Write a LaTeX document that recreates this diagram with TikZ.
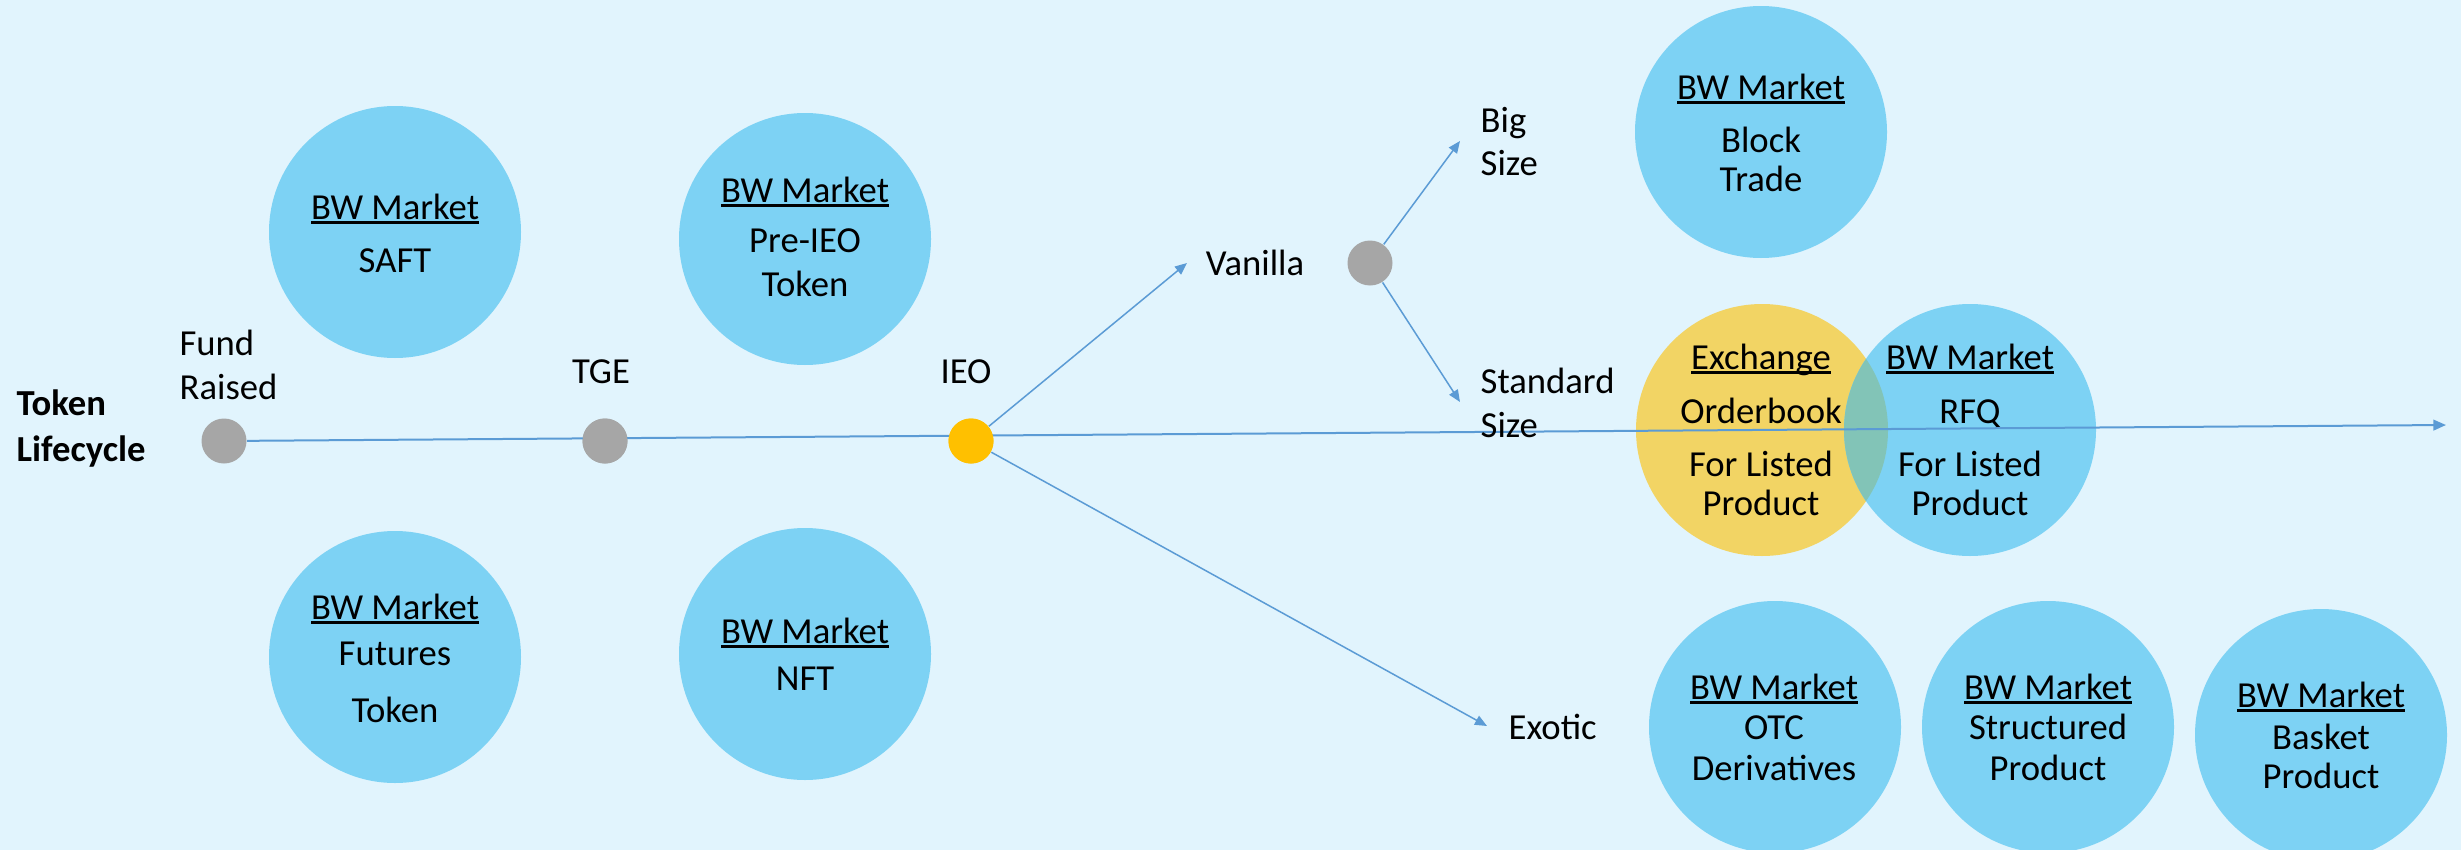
\documentclass[tikz,border=0pt]{standalone}
\usepackage{fontspec}
\setmainfont{Carlito}
\usetikzlibrary{arrows.meta}
\definecolor{bgcol}{RGB}{225,244,253}
\definecolor{bwblue}{RGB}{125,210,244}
\definecolor{exyellow}{RGB}{242,212,100}
\definecolor{overlapcol}{RGB}{130,196,183}
\definecolor{dotgray}{RGB}{166,166,166}
\definecolor{ieocol}{RGB}{255,192,0}
\definecolor{linecol}{RGB}{91,155,213}
\newcommand\myul[1]{\setbox0\hbox{#1}\rlap{\rule[-1.6pt]{\wd0}{1pt}}\box0}
\tikzset{
  bubble/.style={circle, fill=bwblue, minimum size=75.6pt, inner sep=0pt},
  ybubble/.style={circle, fill=exyellow, minimum size=75.6pt, inner sep=0pt},
  txt/.style={font=\fontsize{11}{13}\selectfont, text height=7.2pt, text depth=0pt, inner sep=0pt},
  ltxt/.style={txt, anchor=west},
  btxt/.style={ltxt, font=\fontsize{11}{13}\selectfont\bfseries},
  dotnode/.style={circle, fill=dotgray, minimum size=13.5pt, inner sep=0pt},
  conn/.style={draw=linecol, line width=0.45pt, -{Triangle[length=3.6pt,width=3pt]}},
  mainline/.style={draw=linecol, line width=0.6pt, -{Triangle[length=3.8pt,width=3.2pt]}},
}
\begin{document}
\begin{tikzpicture}[x=0.3pt,y=-0.3pt]
\fill[bgcol] (0,0) rectangle (2461,850);
\useasboundingbox (0,0) rectangle (2461,850);

% bubbles
\node[bubble] (saft) at (395,232) {};
\node[bubble] (preieo) at (805,239) {};
\node[bubble] (futures) at (395,657) {};
\node[bubble] (nft) at (805,654) {};
\node[bubble] (block) at (1761,132) {};
\node[ybubble] (exch) at (1762,430) {};
\node[bubble] (rfq) at (1970,430) {};
\begin{scope}
  \clip (exch.center) circle[radius=37.8pt];
  \fill[overlapcol] (rfq.center) circle[radius=37.8pt];
\end{scope}
\node[bubble] (otc) at (1775,727) {};
\node[bubble] (struct) at (2048,727) {};
\node[bubble] (basket) at (2321,735) {};

% bubble texts
\node[txt] (saft1) at (395,207) {\myul{BW Market}};
\node[txt] (saft2) at (395,260) {SAFT};
\node[txt] (pre1) at (805,190) {\myul{BW Market}};
\node[txt] (pre2) at (805,240) {Pre-IEO};
\node[txt] (pre3) at (805,284) {Token};
\node[txt] (fut1) at (395,607) {\myul{BW Market}};
\node[txt] (fut2) at (395,653) {Futures};
\node[txt] (fut3) at (395,710) {Token};
\node[txt] (nft1) at (805,631) {\myul{BW Market}};
\node[txt] (nft2) at (805,678) {NFT};
\node[txt] (blk1) at (1761,87) {\myul{BW Market}};
\node[txt] (blk2) at (1761,140) {Block};
\node[txt] (blk3) at (1761,179) {Trade};
\node[txt] (ex1) at (1761,357) {\myul{Exchange}};
\node[txt] (ex2) at (1761,411) {Orderbook};
\node[txt] (ex3) at (1761,464) {For Listed};
\node[txt] (ex4) at (1761,503) {Product};
\node[txt] (rfq1) at (1970,357) {\myul{BW Market}};
\node[txt] (rfq2) at (1970,411) {RFQ};
\node[txt] (rfq3) at (1970,464) {For Listed};
\node[txt] (rfq4) at (1970,503) {Product};
\node[txt] (otc1) at (1774,687) {\myul{BW Market}};
\node[txt] (otc2) at (1774,727) {OTC};
\node[txt] (otc3) at (1774,768) {Derivatives};
\node[txt] (st1) at (2048,687) {\myul{BW Market}};
\node[txt] (st2) at (2048,727) {Structured};
\node[txt] (st3) at (2048,768) {Product};
\node[txt] (bs1) at (2321,695) {\myul{BW Market}};
\node[txt] (bs2) at (2321,737) {Basket};
\node[txt] (bs3) at (2321,776) {Product};

% timeline dots
\node[dotnode] (fund) at (224,441) {};
\node[dotnode] (tge) at (605,441) {};
\node[dotnode, fill=ieocol] (ieo) at (971,441) {};
\node[dotnode] (vdot) at (1370,263) {};

\coordinate (lineend) at (2446,425);
\coordinate (vantip) at (1187,263);
\coordinate (bigtip) at (1460,141);
\coordinate (stdtip) at (1460,402);
\coordinate (extip) at (1487,726);

% connectors
\draw[mainline] (fund) -- (lineend);
\node[dotnode] at (tge) {};
\node[dotnode, fill=ieocol] at (ieo) {};
\draw[conn] (ieo) -- (vantip);
\draw[conn] (ieo) -- (extip);
\draw[conn] (vdot) -- (bigtip);
\draw[conn] (vdot) -- (stdtip);

% labels
\node[btxt] (tok1) at (16,403) {Token};
\node[btxt] (tok2) at (16,449) {Lifecycle};
\node[ltxt] (fr1) at (179,343) {Fund};
\node[ltxt] (fr2) at (179,387) {Raised};
\node[txt] (tgel) at (601,371) {TGE};
\node[txt] (ieol) at (966,371) {IEO};
\node[txt] (van) at (1255,263) {Vanilla};
\node[ltxt] (big1) at (1480,120) {Big};
\node[ltxt] (big2) at (1480,163) {Size};
\node[ltxt] (std1) at (1480,381) {Standard};
\node[ltxt] (std2) at (1480,425) {Size};
\node[ltxt] (exo) at (1508,727) {Exotic};
\end{tikzpicture}
\end{document}
